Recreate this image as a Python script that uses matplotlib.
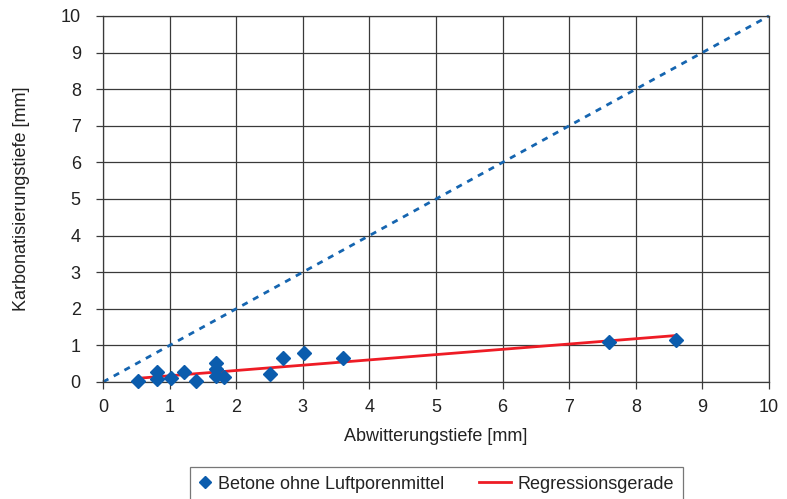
import numpy as np
import matplotlib.pyplot as plt
from matplotlib.legend_handler import HandlerLine2D

plt.rcParams['font.family'] = ['Liberation Sans', 'DejaVu Sans']

# Messwerte: Abwitterungstiefe und Karbonatisierungstiefe in mm
abwitterung = [0.52, 0.81, 0.81, 1.02, 1.22, 1.40, 1.69, 1.69, 1.69, 1.81,
               2.50, 2.71, 3.02, 3.61, 7.60, 8.61]
karbonatisierung = [0.04, 0.28, 0.07, 0.12, 0.28, 0.04, 0.53, 0.35, 0.16, 0.13,
                    0.22, 0.66, 0.78, 0.66, 1.08, 1.15]

# Regressionsgerade y = a*x + b
reg_a = 0.1446
reg_b = 0.025
reg_x = [0.52, 8.61]

ticks = list(range(0, 11))


class LongLineHandler(HandlerLine2D):
    """Linie in der Legende nach links verlaengert (kurze Handles fuer Marker)."""

    def __init__(self, extra=1.1, **kw):
        super().__init__(**kw)
        self.extra = extra

    def get_xdata(self, legend, xdescent, ydescent, width, height, fontsize):
        x0 = -xdescent - self.extra * fontsize
        x1 = -xdescent + width
        return [x0, x1], [0.5 * (x0 + x1)]


fig = plt.figure(figsize=(7.87, 4.99), dpi=100)
ax = fig.add_axes([0.1309, 0.2345, 0.8462, 0.7335])

ax.set_xlim(0, 10)
ax.set_ylim(0, 10)
ax.set_xticks(ticks)
ax.set_yticks(ticks)
ax.grid(True, color='#3a3a3a', linewidth=0.9)
ax.set_axisbelow(True)
for s in ax.spines.values():
    s.set_color('#3a3a3a')
    s.set_linewidth(0.9)
ax.tick_params(direction='out', length=5, width=0.9, color='#3a3a3a',
               labelsize=13, labelcolor='#222222')
ax.tick_params(axis='x', pad=7)
ax.tick_params(axis='y', pad=11)

# Winkelhalbierende
ax.plot([0, 10], [0, 10], color='#1565b0', linestyle=(0, (2.2, 2.2)),
        linewidth=2.0, clip_on=False)

rx = np.array(reg_x)
line_reg, = ax.plot(rx, reg_a * rx + reg_b, color='#ee1c25', linewidth=2.0,
                    label='Regressionsgerade')
pts, = ax.plot(abwitterung, karbonatisierung, linestyle='none', marker='D',
               markersize=7.5, color='#0b5cad',
               label='Betone ohne Luftporenmittel', clip_on=False, zorder=5)

ax.set_xlabel('Abwitterungstiefe [mm]', fontsize=13, labelpad=9, color='#222222')
ax.set_ylabel('Karbonatisierungstiefe [mm]', fontsize=13, labelpad=22,
              color='#222222')

leg = fig.legend([pts, line_reg], [pts.get_label(), line_reg.get_label()],
                 loc='upper left', bbox_to_anchor=(0.2300, 0.083), ncol=2,
                 fontsize=13, frameon=True, fancybox=False,
                 edgecolor='#555555', handlelength=0.7, handletextpad=0.35,
                 columnspacing=3.0, borderpad=0.5, markerscale=0.8,
                 labelcolor='#222222',
                 handler_map={line_reg: LongLineHandler(extra=1.05)})
leg.get_frame().set_linewidth(0.9)

fig.savefig('out.png', dpi=100)
